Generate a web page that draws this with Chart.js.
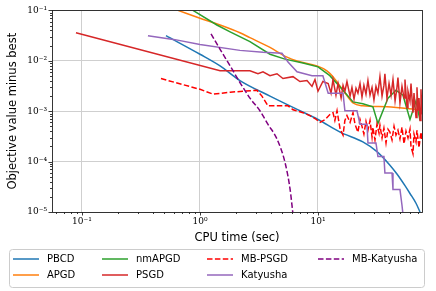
<!DOCTYPE html>
<html lang="en">
<head>
<meta charset="UTF-8">
<title>Objective value minus best vs CPU time</title>
<script src="https://cdn.jsdelivr.net/npm/chart.js"></script>
<style>
  body { margin: 0; background: #fff; }
  canvas { display: block; }
</style>
</head>
<body>
<canvas id="gapChart" width="436" height="291"></canvas>
<script>
// values: CPU time (sec) and objective gap
const pbcdTime = [0.515, 1.0, 1.48, 2.18, 3.92, 7.03, 10.0, 15.4, 24.0, 31.6, 40.7, 46.7, 54.6, 60.2, 67.7, 73.2];
const pbcdGap  = [0.0315, 0.0135, 0.00792, 0.00406, 0.00199, 0.00102, 0.000685, 0.000384, 0.000246, 0.000158, 8.5e-5, 5.67e-5, 3.33e-5, 2.33e-5, 1.49e-5, 1e-5];

const apgdTime = [0.651, 1.0, 1.48, 2.18, 2.65, 3.92, 5.46, 6.64, 9.81, 11.9, 13.4, 16.3, 19.8, 24.0, 38.4, 73.2];
const apgdGap  = [0.1, 0.070, 0.0513, 0.0360, 0.0288, 0.0184, 0.0118, 0.00989, 0.00792, 0.00634, 0.00485, 0.00260, 0.00146, 0.00128, 0.00122, 0.00107];

const nmapgdTime = [0.872, 1.39, 1.80, 2.65, 3.92, 5.25, 7.46, 10.0, 12.6, 16.3, 19.8, 24.0, 29.2, 32.2, 39.2, 45.8, 52.5, 60.2, 67.7, 73.2];
const nmapgdGap  = [0.1, 0.0513, 0.0376, 0.0241, 0.0135, 0.0108, 0.00905, 0.00757, 0.00507, 0.00260, 0.00153, 0.00140, 0.00122, 0.000573, 0.00182, 0.00260, 0.00208, 0.000685, 0.00160, 0.000655];

const psgdTime = [0.0889, 1.48, 1.80, 2.65, 3.10, 3.42, 3.92, 4.49, 5.05, 6.14, 7.03, 8.07, 8.90, 9.43, 10.0, 11.0,
  12.2, 12.9, 13.4, 14.2, 14.8, 15.7, 16.3, 16.9, 17.6, 18.7, 19.4, 20.2, 21.0, 21.8, 22.7, 23.6, 24.5, 25.5, 26.5, 27.6,
  28.7, 29.8, 31.0, 32.2, 33.5, 34.9, 36.2, 36.9, 38.4, 40.0, 41.6, 43.2, 45.0, 46.7, 47.6, 49.5, 51.5, 53.6, 54.6, 56.8,
  57.9, 60.2, 61.4, 63.8, 65.1, 67.7, 69.0, 70.4, 71.8, 73.2, 74.6, 76.1];
const psgdGap  = [0.0360, 0.00634, 0.00634, 0.00634, 0.00554, 0.00606, 0.00507, 0.00554, 0.00444, 0.00485, 0.00388, 0.00406, 0.00311, 0.00425, 0.00249, 0.00388,
  0.00355, 0.00228, 0.00425, 0.00208, 0.00355, 0.00182, 0.00325, 0.00249, 0.00388, 0.00199, 0.00297, 0.00174, 0.00285, 0.00228, 0.00355, 0.00191, 0.00325, 0.00218, 0.00406, 0.00208,
  0.00297, 0.00167, 0.00311, 0.00228, 0.00485, 0.00199, 0.00325, 0.00554, 0.00182, 0.00355, 0.00208, 0.00425, 0.00160, 0.00297, 0.00464, 0.00146, 0.00311, 0.00182, 0.00425, 0.00117,
  0.00249, 0.00160, 0.00355, 0.000935, 0.00228, 0.000749, 0.00297, 0.00102, 0.00182, 0.000655, 0.00272, 0.000856];

const mbpsgdTime = [0.467, 1.0, 1.29, 1.80, 2.31, 3.04, 3.35, 3.77, 4.49, 5.57, 6.14, 7.46, 8.55, 9.43, 10.4, 11.5,
  12.6, 13.4, 13.9, 14.5, 15.4, 16.3, 16.9, 17.6, 18.7, 19.8, 20.6, 21.8, 22.7, 23.6, 24.5, 25.5, 26.5, 27.6, 28.7, 29.2,
  30.4, 31.6, 32.9, 33.5, 34.9, 36.2, 37.7, 39.2, 40.7, 42.4, 44.1, 45.8, 47.6, 49.5, 51.5, 53.6, 55.7, 57.9, 60.2, 61.4,
  63.8, 65.1, 67.7, 69.0, 71.8, 73.2, 74.6, 76.1];
const mbpsgdGap  = [0.00444, 0.00272, 0.00218, 0.00238, 0.00249, 0.00260, 0.00199, 0.00128, 0.00128, 0.00128, 0.00107, 0.000935, 0.000819, 0.000716, 0.000600, 0.000685,
  0.000856, 0.000935, 0.000655, 0.00102, 0.000439, 0.000336, 0.000655, 0.000819, 0.000600, 0.000935, 0.000548, 0.000384, 0.000685, 0.000501, 0.000351, 0.000627, 0.000420, 0.000655, 0.000308, 0.000480,
  0.000269, 0.000548, 0.000367, 0.000524, 0.000294, 0.000459, 0.000235, 0.000439, 0.000384, 0.000269, 0.000501, 0.000336, 0.000420, 0.000281, 0.000480, 0.000225, 0.000402, 0.000294, 0.000439, 0.000197,
  0.000144, 0.000351, 0.000246, 0.000420, 0.000188, 0.000281, 0.000384, 0.000258];

const katyushaTime = [0.362, 0.614, 1.0, 2.18, 3.42, 4.95, 5.57, 6.64, 8.90, 11.0, 12.2, 16.3, 16.9, 21.4, 22.7, 26.0, 26.5, 31.0, 32.2, 36.2, 36.9, 42.4, 43.2, 49.5, 51.5, 52.5];
const katyushaGap  = [0.0315, 0.0263, 0.0211, 0.0161, 0.0148, 0.0141, 0.00946, 0.00606, 0.00507, 0.00507, 0.00228, 0.00228, 0.00102, 0.00102, 0.000548, 0.000548, 0.000235, 0.000235, 0.000126, 0.000126, 5.93e-5, 5.93e-5, 2.78e-5, 2.78e-5, 1.36e-5, 9e-6];

const mbkatyushaTime = [1.24, 1.48, 1.80, 2.18, 2.65, 3.22, 3.77, 4.49, 5.25, 5.79, 6.14];
const mbkatyushaGap  = [0.0344, 0.0169, 0.00792, 0.00371, 0.00182, 0.00102, 0.000548, 0.000281, 9.68e-5, 2.91e-5, 9e-6];

const xTickValues = [0.1, 1, 10];
const xTickLabels = ['10\u207B\u00B9', '10\u2070', '10\u00B9'];
const yTickValues = [1e-5, 1e-4, 1e-3, 1e-2, 1e-1];
const yTickLabels = ['10\u207B\u2075', '10\u207B\u2074', '10\u207B\u00B3', '10\u207B\u00B2', '10\u207B\u00B9'];

// plotting order = legend order (column by column)
const series = [
  { label: 'PBCD', t: pbcdTime, g: pbcdGap, color: '#1f77b4', smooth: true },
  { label: 'APGD', t: apgdTime, g: apgdGap, color: '#ff7f0e', smooth: true },
  { label: 'nmAPGD', t: nmapgdTime, g: nmapgdGap, color: '#2ca02c' },
  { label: 'PSGD', t: psgdTime, g: psgdGap, color: '#d62728' },
  { label: 'MB-PSGD', t: mbpsgdTime, g: mbpsgdGap, color: '#ff0000', dash: [5.5, 2.4] },
  { label: 'Katyusha', t: katyushaTime, g: katyushaGap, color: '#9467bd' },
  { label: 'MB-Katyusha', t: mbkatyushaTime, g: mbkatyushaGap, color: '#800080', dash: [5.5, 2.4], smooth: true }
];

function findTick(values, v) {
  return values.findIndex(t => Math.abs(Math.log10(t) - Math.log10(v)) < 1e-6);
}

const gridColor = (values) => (c) => (c.tick && findTick(values, c.tick.value) >= 0) ? '#cfcfcf' : 'rgba(0,0,0,0)';

// minor/major tick marks, frame and the 4-column legend below the axes
const framePlugin = {
  id: 'frame',
  afterDraw(chart) {
    const { ctx, chartArea: a, scales: { x, y } } = chart;
    ctx.save();
    ctx.strokeStyle = '#222';
    ctx.lineWidth = 0.9;
    ctx.beginPath();
    for (let n = -2; n <= 2; n++) {
      for (let k = 1; k < 10; k++) {
        const v = k * Math.pow(10, n);
        if (v < x.min || v > x.max) continue;
        const p = Math.round(x.getPixelForValue(v)) + 0.5;
        ctx.moveTo(p, a.bottom);
        ctx.lineTo(p, a.bottom + (k === 1 ? 3.5 : 2));
      }
    }
    for (let n = -5; n <= -1; n++) {
      for (let k = 1; k < 10; k++) {
        const v = k * Math.pow(10, n);
        if (v < y.min * 0.999 || v > y.max * 1.001) continue;
        const p = Math.round(y.getPixelForValue(v)) + 0.5;
        ctx.moveTo(a.left, p);
        ctx.lineTo(a.left - (k === 1 ? 3.5 : 2), p);
      }
    }
    ctx.stroke();
    ctx.strokeRect(Math.round(a.left) + 0.5, Math.round(a.top) + 0.5, Math.round(a.right - a.left), Math.round(a.bottom - a.top));

    // legend
    ctx.fillStyle = 'rgba(255,255,255,0.85)';
    ctx.strokeStyle = '#cccccc';
    ctx.lineWidth = 1;
    ctx.beginPath();
    ctx.roundRect(9.5, 249.5, 415, 38, 3);
    ctx.fill();
    ctx.stroke();
    const colX = [13, 102, 207, 318];
    const rowY = [259, 275];
    ctx.font = '10px "DejaVu Sans"';
    ctx.textBaseline = 'middle';
    chart.data.datasets.forEach((ds, i) => {
      const cx = colX[Math.floor(i / 2)];
      const cy = rowY[i % 2];
      ctx.strokeStyle = ds.borderColor;
      ctx.lineWidth = 1.5;
      ctx.setLineDash(ds.borderDash || []);
      ctx.beginPath();
      ctx.moveTo(cx, cy);
      ctx.lineTo(cx + 26, cy);
      ctx.stroke();
      ctx.setLineDash([]);
      ctx.fillStyle = '#000';
      ctx.fillText(ds.label, cx + 34, cy);
    });
    ctx.restore();
  }
};

const ctx = document.getElementById('gapChart').getContext('2d');
new Chart(ctx, {
  type: 'line',
  data: {
    datasets: series.map((s, i) => ({
      label: s.label,
      data: s.t.map((t, j) => ({ x: t, y: s.g[j] })),
      borderColor: s.color,
      backgroundColor: s.color,
      borderWidth: 1.5,
      borderDash: s.dash || [],
      pointRadius: 0,
      fill: false,
      cubicInterpolationMode: s.smooth ? 'monotone' : 'default',
      tension: 0,
      order: series.length - i
    }))
  },
  options: {
    responsive: false,
    devicePixelRatio: 1,
    animation: false,
    layout: { padding: { left: 0, right: 14, top: 5, bottom: 46 } },
    plugins: { legend: { display: false }, tooltip: { enabled: false } },
    scales: {
      x: {
        type: 'logarithmic',
        min: 0.0557,
        max: 76.1,
        afterFit(scale) { scale.height = 33; },
        grid: { color: gridColor(xTickValues), lineWidth: 1, drawTicks: false },
        border: { display: false },
        ticks: {
          autoSkip: false, maxRotation: 0, padding: 4, color: '#000',
          font: { family: '"DejaVu Serif"', size: 9 },
          callback: (v) => { const i = findTick(xTickValues, v); return i >= 0 ? xTickLabels[i] : ''; }
        },
        title: { display: true, text: 'CPU time (sec)', color: '#000', font: { family: '"DejaVu Sans"', size: 11.5 }, padding: { top: 0, bottom: 0 } }
      },
      y: {
        type: 'logarithmic',
        min: 1e-5,
        max: 0.1,
        afterFit(scale) { scale.width = 52; },
        grid: { color: gridColor(yTickValues), lineWidth: 1, drawTicks: false },
        border: { display: false },
        ticks: {
          autoSkip: false, padding: 5, color: '#000',
          font: { family: '"DejaVu Serif"', size: 9 },
          callback: (v) => { const i = findTick(yTickValues, v); return i >= 0 ? yTickLabels[i] : ''; }
        },
        title: { display: true, text: 'Objective value minus best', color: '#000', font: { family: '"DejaVu Sans"', size: 11.5 }, padding: { top: 6, bottom: 0 } }
      }
    }
  },
  plugins: [framePlugin]
});
</script>
</body>
</html>
